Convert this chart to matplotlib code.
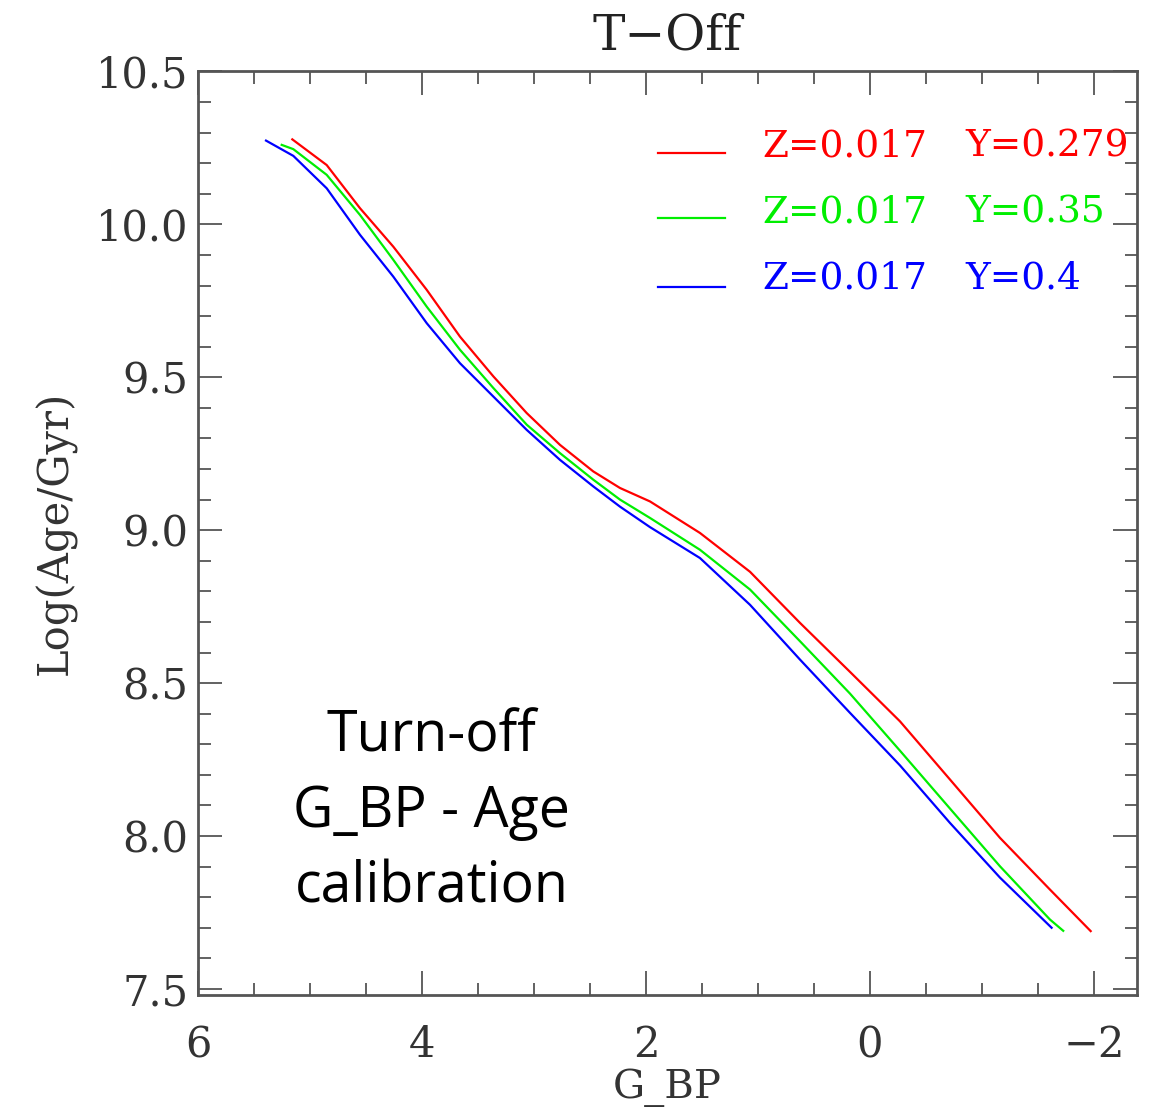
import numpy as np
import matplotlib.pyplot as plt
from matplotlib.ticker import MultipleLocator

# turn-off G_BP vs log(age)
red_x = [5.158, 4.851, 4.554, 4.256, 3.958, 3.661, 3.363, 3.065, 2.768, 2.470,
         2.232, 1.964, 1.518, 1.071, 0.625, 0.179, -0.268, -0.714, -1.161, -1.607, -1.971]
red_y = [10.278, 10.194, 10.053, 9.927, 9.786, 9.633, 9.503, 9.383, 9.279, 9.192,
         9.138, 9.094, 8.991, 8.864, 8.697, 8.537, 8.375, 8.185, 7.994, 7.825, 7.689]

green_x = [5.253, 5.149, 4.851, 4.554, 4.256, 3.958, 3.661, 3.363, 3.065, 2.768, 2.470,
           2.232, 1.964, 1.518, 1.071, 0.625, 0.179, -0.268, -0.714, -1.161, -1.607, -1.726]
green_y = [10.260, 10.246, 10.162, 10.031, 9.884, 9.731, 9.590, 9.465, 9.345, 9.252, 9.165,
           9.100, 9.040, 8.936, 8.806, 8.637, 8.466, 8.279, 8.090, 7.901, 7.727, 7.690]

blue_x = [5.393, 5.149, 4.851, 4.554, 4.256, 3.958, 3.661, 3.363, 3.065, 2.768, 2.470,
          2.232, 1.964, 1.518, 1.071, 0.625, 0.179, -0.268, -0.714, -1.161, -1.622]
blue_y = [10.274, 10.224, 10.118, 9.966, 9.829, 9.677, 9.546, 9.437, 9.328, 9.230, 9.143,
          9.077, 9.010, 8.909, 8.756, 8.577, 8.403, 8.231, 8.043, 7.864, 7.700]

z_labels = ['Z=0.017', 'Z=0.017', 'Z=0.017']
y_labels = ['Y=0.279', 'Y=0.35', 'Y=0.4']
colors = ['#ff0000', '#00ee00', '#0000ff']

serif = ['DejaVu Serif']
fig = plt.figure(figsize=(11.54, 11.15), dpi=100)
ax = fig.add_axes([0.1716, 0.1076, 0.8137, 0.8283])

for xs, ys, c in zip([red_x, green_x, blue_x], [red_y, green_y, blue_y], colors):
    ax.plot(xs, ys, color=c, lw=1.6, solid_joinstyle='round')

ax.set_xlim(6, -2.385)
ax.set_ylim(7.48, 10.5)
ax.xaxis.set_major_locator(MultipleLocator(2))
ax.xaxis.set_minor_locator(MultipleLocator(0.5))
ax.yaxis.set_major_locator(MultipleLocator(0.5))
ax.yaxis.set_minor_locator(MultipleLocator(0.1))
ax.yaxis.set_major_formatter(plt.FuncFormatter(lambda v, p: f'{v:.1f}'))
ax.xaxis.set_major_formatter(plt.FuncFormatter(lambda v, p: f'{v:.0f}'.replace('-', '\u2212')))

ax.tick_params(which='both', direction='in', top=True, right=True, color='#555555',
               labelsize=30, width=1.3)
ax.tick_params(which='major', length=17)
ax.tick_params(which='minor', length=9)
ax.tick_params(axis='x', pad=21)
ax.tick_params(axis='y', pad=7)
for s in ax.spines.values():
    s.set_color('#555555')
    s.set_linewidth(2)

ax.set_title('T\u2212Off', family=serif, fontsize=35, color='#222222', pad=16)
ax.set_xlabel('G_BP', family=serif, fontsize=29, color='#333333', labelpad=2)
ax.set_ylabel('Log(Age/Gyr)', family=serif, fontsize=30, color='#333333', labelpad=14)

fig.canvas.draw()
for lab in ax.get_xticklabels() + ax.get_yticklabels():
    lab.set_family(serif)
    lab.set_color('#333333')
ylabs = ax.get_yticklabels()
ylabs[-1].set_va('top')

# legend drawn by hand, IDL style
line_y = [0.912, 0.841, 0.767]
text_y = [0.9074, 0.837, 0.765]
for i in range(3):
    ax.plot([0.49, 0.561], [line_y[i], line_y[i]], transform=ax.transAxes,
            color=colors[i], lw=1.6)
    ax.text(0.6006, text_y[i], z_labels[i], transform=ax.transAxes, color=colors[i],
            family=serif, fontsize=27, va='baseline')
    ax.text(0.817, text_y[i], y_labels[i], transform=ax.transAxes, color=colors[i],
            family=serif, fontsize=27, va='baseline')

ax.text(0.249, 0.198, 'Turn-off\nG_BP - Age\ncalibration', transform=ax.transAxes,
        family=['Open Sans', 'DejaVu Sans'], fontsize=40, ha='center', va='center',
        linespacing=1.43, color='black')

fig.savefig('out.png', dpi=100)
